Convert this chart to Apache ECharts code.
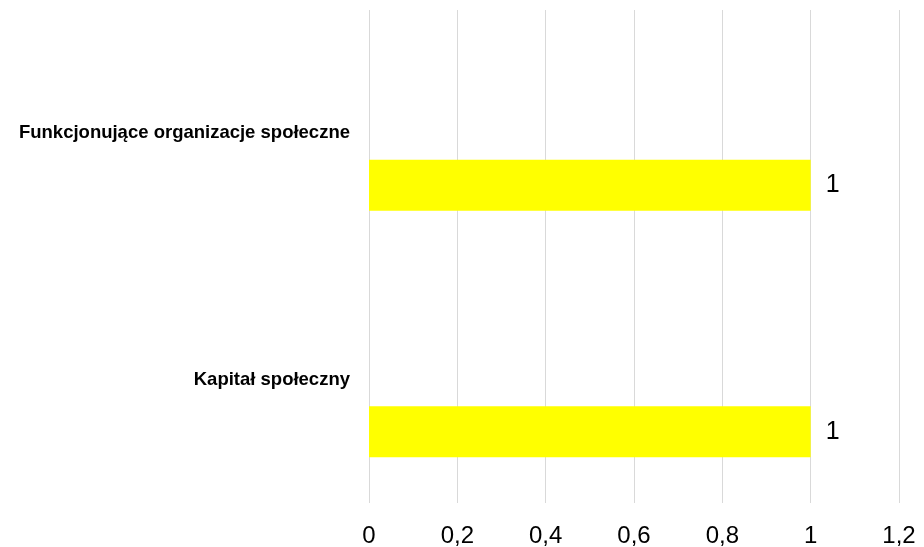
<!DOCTYPE html>
<html>
<head>
<meta charset="utf-8">
<script src="https://cdn.jsdelivr.net/npm/echarts@6/dist/echarts.min.js"></script>
<style>html,body{margin:0;padding:0;background:#fff}#c{width:924px;height:547px}</style>
</head>
<body>
<div id="c"></div>
<script>
const categories = ['Funkcjonujące organizacje społeczne', 'Kapitał społeczny'];
const values = [1, 1];
const emptyValues = [null, null];
const xTicks = { min: 0, max: 1.2, interval: 0.2 };

const fmt = v => String(Math.round(v * 10) / 10).replace('.', ',');
const chart = echarts.init(document.getElementById('c'));
chart.setOption({
  animation: false,
  grid: { left: 369, right: 25, top: 10, bottom: 44, containLabel: false, outerBoundsMode: 'none' },
  xAxis: {
    type: 'value', min: xTicks.min, max: xTicks.max, interval: xTicks.interval,
    axisLine: { show: false }, axisTick: { show: false },
    splitLine: { show: true, lineStyle: { color: '#d9d9d9', width: 1 } },
    axisLabel: { formatter: fmt, fontSize: 24, color: '#000', margin: 21, fontFamily: 'Liberation Sans, Arial, sans-serif' }
  },
  yAxis: {
    type: 'category', data: categories, inverse: true,
    axisLine: { show: false }, axisTick: { show: false }, splitLine: { show: false },
    axisLabel: { fontSize: 18.5, fontWeight: 'bold', color: '#000', margin: 19, fontFamily: 'Liberation Sans, Arial, sans-serif' }
  },
  series: [
    { type: 'bar', name: 'puste', data: emptyValues, barWidth: 51, barGap: '104%' },
    { type: 'bar', name: 'wartość', data: values, barWidth: 51, barGap: '104%',
      itemStyle: { color: '#FFFF00' },
      label: { show: true, position: 'right', distance: 15, fontSize: 25, color: '#000',
               fontFamily: 'Liberation Sans, Arial, sans-serif', formatter: p => fmt(p.value) } }
  ]
});
</script>
</body>
</html>
